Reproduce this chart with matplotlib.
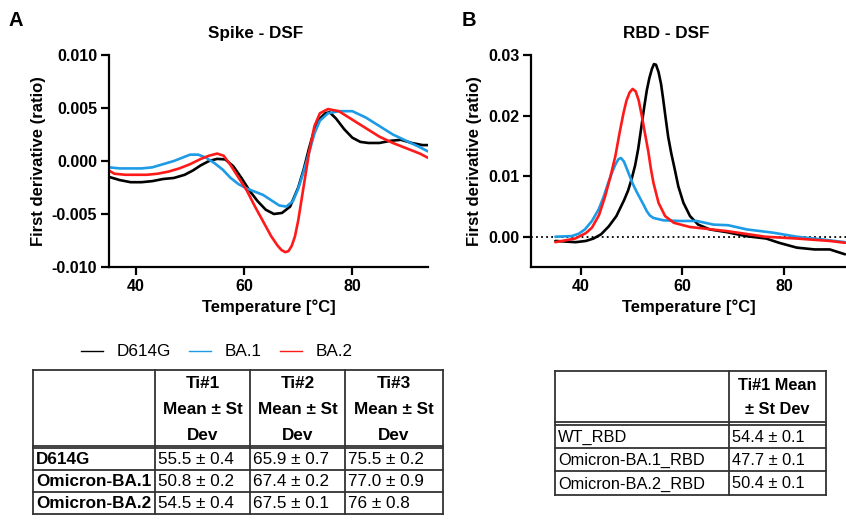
import matplotlib
matplotlib.use("Agg")
import matplotlib.pyplot as plt
from matplotlib.lines import Line2D

plt.rcParams['font.family'] = ['Liberation Sans', 'DejaVu Sans']

W, H = 846, 521

# ---------------- data: Spike DSF (panel A) ----------------
spike_black_T = [35, 37, 39, 41, 43, 45, 47, 49, 50.5, 52, 53.5, 55, 56.5, 58, 59.5, 61, 62.5, 64, 65.5, 67,
                 68.5, 70, 71, 72, 73, 74, 75, 75.8, 77, 78.5, 80, 81.5, 83, 85, 87, 89, 91, 93, 94]
spike_black_v = [-0.0015, -0.0018, -0.0020, -0.0020, -0.0019, -0.0017, -0.0016, -0.0013, -0.0009, -0.0004,
                 0.0000, 0.0002, 0.00015, -0.0005, -0.0016, -0.0028, -0.0038, -0.0046, -0.0050, -0.0049,
                 -0.0043, -0.0025, -0.0008, 0.0012, 0.0030, 0.0040, 0.0045, 0.0046, 0.0040, 0.0030,
                 0.0022, 0.0018, 0.0017, 0.0017, 0.0019, 0.0020, 0.0017, 0.0015, 0.0015]

spike_blue_T = [35, 37, 39, 41, 43, 45, 47, 48.5, 50, 51.5, 53, 54.5, 56, 57.5, 59, 60.5, 62, 63.5, 65, 66.5,
                67.8, 69, 70, 71, 72, 73, 74, 75.5, 77.5, 80, 82.5, 85, 87.5, 90, 92.5, 94]
spike_blue_v = [-0.0006, -0.0007, -0.0007, -0.0007, -0.0006, -0.0003, 0.0000, 0.0003, 0.0006, 0.0006,
                0.0003, -0.0002, -0.0008, -0.0016, -0.0022, -0.0026, -0.0029, -0.0032, -0.0037, -0.0042,
                -0.0043, -0.0038, -0.0026, -0.0010, 0.0008, 0.0026, 0.0038, 0.0045, 0.0047, 0.0047,
                0.0041, 0.0033, 0.0025, 0.0019, 0.0013, 0.0009]

spike_red_T = [35, 36, 38, 40, 42, 44, 46, 48, 50, 52, 53.5, 55, 56.2, 57.5, 59, 60.5, 62, 63.5, 65, 66.2,
               66.9, 67.6, 68.2, 68.8, 69.4, 70, 71, 72, 73, 74, 75.5, 77.5, 80, 82.5, 85, 87.5, 90, 92.5, 94]
spike_red_v = [-0.0009, -0.0012, -0.0013, -0.0013, -0.0013, -0.0012, -0.0010, -0.0007, -0.0003, 0.0002,
               0.0005, 0.0007, 0.0005, -0.0004, -0.0016, -0.0028, -0.0043, -0.0057, -0.0071, -0.0080,
               -0.0084, -0.0086, -0.0085, -0.0080, -0.0071, -0.0056, -0.0024, 0.0008, 0.0033, 0.0045,
               0.0049, 0.0047, 0.0039, 0.0031, 0.0023, 0.0017, 0.0012, 0.0007, 0.0003]

# ---------------- data: RBD DSF (panel B) ----------------
rbd_black_T = [35, 37, 39, 41, 42.5, 44, 45.5, 47, 48.5, 49.3, 50, 50.7, 51.3, 51.9, 52.5, 53, 53.5, 54,
               54.4, 54.8, 55.3, 55.8, 56.2, 56.7, 57.2, 57.8, 58.5, 59.2, 60.2, 61.5, 63.1, 65.4, 68.7,
               72.5, 76.5, 79, 82.5, 86, 89, 92]
rbd_black_v = [-0.0007, -0.0008, -0.0009, -0.0007, -0.0003, 0.0004, 0.0017, 0.0034, 0.0060, 0.0076, 0.0095,
               0.0118, 0.0145, 0.0180, 0.0215, 0.0242, 0.0262, 0.0277, 0.0285, 0.0284, 0.0272, 0.0252,
               0.0228, 0.0196, 0.0165, 0.0138, 0.0111, 0.0083, 0.0056, 0.0034, 0.0020, 0.0012, 0.00076,
               0.0001, -0.0003, -0.0010, -0.0018, -0.0021, -0.0021, -0.0029]

rbd_blue_T = [35, 38.2, 39.6, 40.8, 42.2, 43.5, 44.5, 45.4, 46.2, 46.8, 47.4, 47.9, 48.5, 49.4, 50.2, 51,
              51.7, 52.4, 53, 53.6, 54.3, 56.3, 59.5, 62.8, 66.1, 69, 72.7, 77.9, 82.5, 87, 92]
rbd_blue_v = [0.0000, 0.0001, 0.0005, 0.0012, 0.0026, 0.0045, 0.0066, 0.0089, 0.0107, 0.0119, 0.0128,
              0.0130, 0.0124, 0.0105, 0.0088, 0.0074, 0.0063, 0.0052, 0.0042, 0.0035, 0.0031, 0.0027,
              0.0026, 0.0026, 0.0020, 0.0019, 0.0012, 0.00066, 0.0000, -0.0004, -0.0009]

rbd_red_T = [35, 38.9, 41, 42.2, 43.6, 44.8, 45.8, 46.8, 47.6, 48.4, 49, 49.6, 50.2, 50.8, 51.4, 52, 52.6,
             53.3, 53.8, 54.3, 55.3, 56.6, 58.3, 61.5, 64.8, 69, 76.3, 82.5, 89, 92]
rbd_red_v = [-0.0009, -0.0003, 0.0006, 0.0015, 0.0036, 0.0067, 0.0098, 0.0133, 0.0170, 0.0204, 0.0225,
             0.0238, 0.0244, 0.0240, 0.0225, 0.0200, 0.0172, 0.0140, 0.0112, 0.0089, 0.0056, 0.0034,
             0.0023, 0.0016, 0.0013, 0.0009, 0.0000, -0.0003, -0.0007, -0.0010]

series_names = ["D614G", "BA.1", "BA.2"]
series_colors = ["#000000", "#1E9BE6", "#FF1A1A"]

# ---------------- table data ----------------
spike_header = ["Ti#1\nMean ± St\nDev", "Ti#2\nMean ± St\nDev", "Ti#3\nMean ± St\nDev"]
spike_rows = ["D614G", "Omicron-BA.1", "Omicron-BA.2"]
spike_cells = [["55.5 ± 0.4", "65.9 ± 0.7", "75.5 ± 0.2"],
               ["50.8 ± 0.2", "67.4 ± 0.2", "77.0 ± 0.9"],
               ["54.5 ± 0.4", "67.5 ± 0.1", "76 ± 0.8"]]

rbd_header = ["Ti#1 Mean\n± St Dev"]
rbd_rows = ["WT_RBD", "Omicron-BA.1_RBD", "Omicron-BA.2_RBD"]
rbd_cells = [["54.4 ± 0.1"], ["47.7 ± 0.1"], ["50.4 ± 0.1"]]

# ---------------- figure ----------------
fig = plt.figure(figsize=(W / 100, H / 100), dpi=100)


def px_axes(l, t, r, b):
    return fig.add_axes([l / W, 1 - b / H, (r - l) / W, (b - t) / H])


def style(ax):
    for s in ["top", "right"]:
        ax.spines[s].set_visible(False)
    for s in ["left", "bottom"]:
        ax.spines[s].set_linewidth(1.6)
    ax.tick_params(direction="out", length=6, width=1.6, pad=2.5, labelsize=11.5)
    for lab in ax.get_xticklabels() + ax.get_yticklabels():
        lab.set_fontweight("bold")


lw = 1.9
kw = dict(lw=lw, solid_joinstyle="round", solid_capstyle="round")
# Panel A
axA = px_axes(109, 55, 428, 267)
axA.plot(spike_black_T, spike_black_v, color=series_colors[0], **kw)
axA.plot(spike_blue_T, spike_blue_v, color=series_colors[1], **kw)
axA.plot(spike_red_T, spike_red_v, color=series_colors[2], **kw)
axA.set_xlim(35, 94)
axA.set_ylim(-0.010, 0.010)
axA.set_xticks([40, 60, 80])
axA.set_yticks([-0.010, -0.005, 0.000, 0.005, 0.010])
axA.set_yticklabels(["-0.010", "-0.005", "0.000", "0.005", "0.010"])
style(axA)
axA.set_xlabel("Temperature [°C]", fontsize=12, fontweight="bold", labelpad=4)
axA.set_ylabel("First derivative (ratio)", fontsize=12, fontweight="bold", labelpad=4)
axA.set_title("Spike - DSF", fontsize=12.3, fontweight="bold", x=0.46, pad=12)

# Panel B
axB = px_axes(531, 55, 846, 267)
axB.axhline(0, color="black", lw=1.3, ls=(0, (1, 1.8)), zorder=1)
axB.plot(rbd_black_T, rbd_black_v, color=series_colors[0], **kw)
axB.plot(rbd_blue_T, rbd_blue_v, color=series_colors[1], **kw)
axB.plot(rbd_red_T, rbd_red_v, color=series_colors[2], **kw)
axB.set_xlim(30.2, 92.2)
axB.set_ylim(-0.005, 0.030)
axB.set_xticks([40, 60, 80])
axB.set_yticks([0.00, 0.01, 0.02, 0.03])
axB.set_yticklabels(["0.00", "0.01", "0.02", "0.03"])
style(axB)
axB.set_xlabel("Temperature [°C]", fontsize=12, fontweight="bold", labelpad=4)
axB.set_ylabel("First derivative (ratio)", fontsize=12, fontweight="bold", labelpad=4)
axB.set_title("RBD - DSF", fontsize=12.3, fontweight="bold", x=0.43, pad=12)

fig.text(16 / W, 1 - 21 / H, "A", fontsize=14.5, fontweight="bold", ha="center", va="center")
fig.text(469 / W, 1 - 21 / H, "B", fontsize=14.5, fontweight="bold", ha="center", va="center")

# Legend
handles = [Line2D([], [], color=c, lw=1.0) for c in series_colors]
fig.legend(handles, series_names, loc="center", bbox_to_anchor=(217 / W, 1 - 352 / H), ncol=3,
           frameon=False, fontsize=12.3, handlelength=1.3, handletextpad=0.8, columnspacing=1.05)

# Tables drawn on an overlay axes in pixel coordinates
ov = fig.add_axes([0, 0, 1, 1])
ov.set_xlim(0, W)
ov.set_ylim(H, 0)
ov.axis("off")
tlw = 1.3


def draw_table(cols, row_bounds, header_bottom, header, rows, cells, header_lines_y, row_bold, fs):
    top = row_bounds[0]
    bot = row_bounds[-1]
    for x in cols:
        ov.plot([x, x], [top, bot], color="#333333", lw=tlw)
    for y in row_bounds:
        ov.plot([cols[0], cols[-1]], [y, y], color="#333333", lw=tlw)
    ov.plot([cols[0], cols[-1]], [header_bottom, header_bottom], color="#333333", lw=tlw)
    for j, htxt in enumerate(header):
        cx = (cols[j + 1] + cols[j + 2]) / 2
        for k, line in enumerate(htxt.split("\n")):
            ov.text(cx, header_lines_y[k], line, ha="center", va="center", fontsize=fs, fontweight="bold")
    for i, rname in enumerate(rows):
        cy = (row_bounds[i + 1] + row_bounds[i + 2]) / 2
        ov.text(cols[0] + 3, cy + 1, rname, ha="left", va="center", fontsize=fs,
                fontweight="bold" if row_bold else "normal")
        for j, val in enumerate(cells[i]):
            ov.text(cols[j + 1] + 3, cy + 1, val, ha="left", va="center", fontsize=fs)


draw_table([33, 155, 250, 345, 443], [370, 448, 470, 492, 514], 445.5, spike_header, spike_rows, spike_cells,
           [383, 409, 435], True, 12.3)
draw_table([555, 729, 826], [371, 425, 448, 471, 495], 422, rbd_header, rbd_rows, rbd_cells,
           [385, 409], False, 11.8)

fig.savefig("out.png", dpi=100)
